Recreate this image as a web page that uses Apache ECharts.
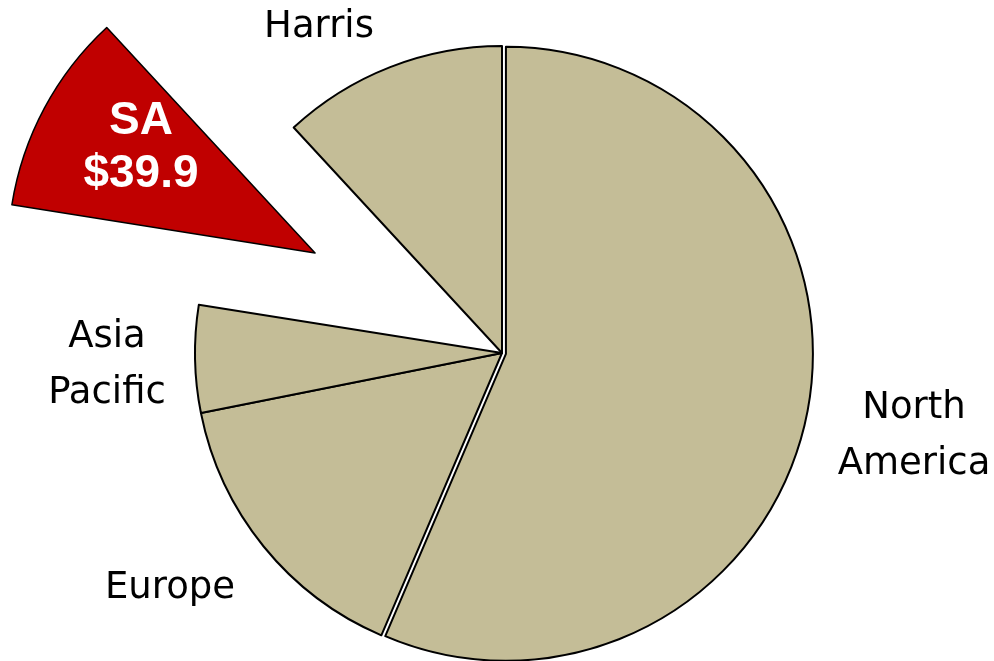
<!DOCTYPE html>
<html><head><meta charset="utf-8">
<script src="https://cdn.jsdelivr.net/npm/echarts@6/dist/echarts.min.js"></script>
<style>html,body{margin:0;padding:0;background:#fff}#c{width:994px;height:661px}</style>
</head><body><div id="c"></div>
<script>
const categories = ['North America', 'Europe', 'Asia Pacific', 'SA', 'Harris'];
const labelTexts = ['North\nAmerica', 'Europe', 'Asia\nPacific', 'SA', 'Harris'];
const values = [212, 58, 21.2, 39.9, 44.6];

const TAN = '#C4BD97', RED = '#C00000';
const CENTER = [502, 353];
const RADIUS = 307;
const labelPos = [
  {x: 914, y: 436, lh: 56},
  {x: 170, y: 588, lh: 40},
  {x: 107, y: 365, lh: 56},
  {x: 141, y: 148, lh: 53},
  {x: 319, y: 27, lh: 40}
];

// explode a slice by moving its series centre along the slice's bisector
function explodedCenter(idx, dist) {
  const total = values.reduce(function (a, b) { return a + b; }, 0);
  let before = 0;
  for (let i = 0; i < idx; i++) before += values[i];
  const mid = (before + values[idx] / 2) / total * 2 * Math.PI; // clockwise from 12 o'clock
  return [CENTER[0] + Math.sin(mid) * dist, CENTER[1] - Math.cos(mid) * dist];
}

function makeSeries(visible, center) {
  return {
    type: 'pie',
    center: center,
    radius: RADIUS,
    startAngle: 90,
    clockwise: true,
    avoidLabelOverlap: false,
    emphasis: {disabled: true},
    labelLine: {show: false},
    labelLayout: function (p) {
      const lp = labelPos[p.dataIndex];
      return {x: lp.x, y: lp.y, align: 'center', verticalAlign: 'middle'};
    },
    data: categories.map(function (c, i) {
      const vis = visible.indexOf(i) >= 0;
      const isSA = i === 3;
      const st = vis ? {color: isSA ? RED : TAN, borderColor: '#000', borderWidth: isSA ? 1.5 : 2}
                     : {color: 'rgba(0,0,0,0)', borderWidth: 0};
      return {
        name: c,
        value: values[i],
        itemStyle: st,
        label: {
          show: vis,
          position: 'outside',
          formatter: isSA ? labelTexts[i] + '\n$' + values[i].toFixed(1) : labelTexts[i],
          fontFamily: isSA ? 'Liberation Sans' : 'DejaVu Sans',
          fontWeight: isSA ? 'bold' : 'normal',
          fontSize: isSA ? 46 : 37,
          lineHeight: labelPos[i].lh,
          color: isSA ? '#fff' : '#000'
        }
      };
    })
  };
}

const chart = echarts.init(document.getElementById('c'));
chart.setOption({
  animation: false,
  backgroundColor: '#fff',
  series: [
    makeSeries([1, 2, 4], CENTER),
    makeSeries([0], explodedCenter(0, 4)),
    makeSeries([3], explodedCenter(3, 212))
  ]
});
</script></body></html>
